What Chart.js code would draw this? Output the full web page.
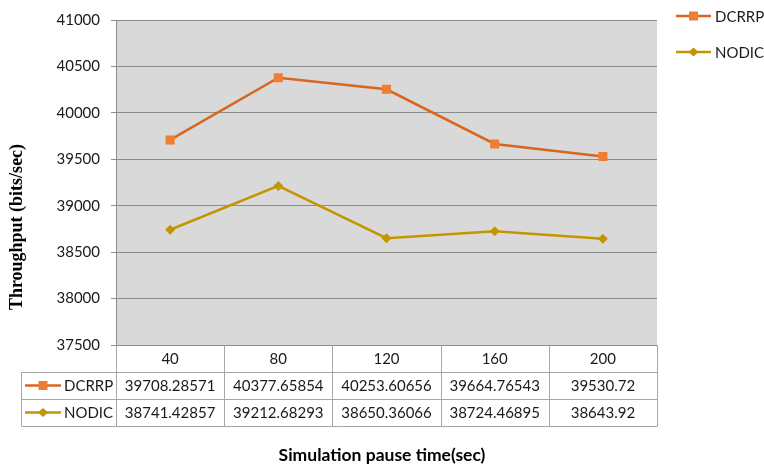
<!DOCTYPE html>
<html>
<head>
<meta charset="utf-8">
<script src="https://cdn.jsdelivr.net/npm/chart.js@4.4.1/dist/chart.umd.min.js"></script>
<style>
html,body{margin:0;padding:0;background:#fff;}
#wrap{width:764px;height:468px;position:relative;}
</style>
</head>
<body>
<div id="wrap"><canvas id="c" width="764" height="468"></canvas></div>
<script>
const categories = ['40', '80', '120', '160', '200'];
const dcrrp = [39708.28571, 40377.65854, 40253.60656, 39664.76543, 39530.72];
const nodic = [38741.42857, 39212.68293, 38650.36066, 38724.46895, 38643.92];
const dcrrpLabels = ['39708.28571', '40377.65854', '40253.60656', '39664.76543', '39530.72'];
const nodicLabels = ['38741.42857', '39212.68293', '38650.36066', '38724.46895', '38643.92'];
const seriesNames = ['DCRRP', 'NODIC'];
const yTitle = 'Throughput (bits/sec)';
const xTitle = 'Simulation pause time(sec)';

const TEXT = '#1a1a1a';
const BORDER = '#a6a6a6';

function drawKey(ctx, ds, x0, x1, y) {
  ctx.save();
  ctx.strokeStyle = ds.borderColor;
  ctx.lineWidth = ds.borderWidth;
  ctx.beginPath(); ctx.moveTo(x0, y); ctx.lineTo(x1, y); ctx.stroke();
  const cx = (x0 + x1) / 2;
  ctx.fillStyle = ds.pointBackgroundColor;
  ctx.beginPath();
  if (ds.pointStyle === 'rect') {
    ctx.rect(cx - 4.5, y - 4.5, 9, 9);
  } else {
    ctx.moveTo(cx - 5, y); ctx.lineTo(cx, y - 4.5); ctx.lineTo(cx + 5, y); ctx.lineTo(cx, y + 4.5); ctx.closePath();
  }
  ctx.fill();
  ctx.restore();
}

const tablePlugin = {
  id: 'tablePlugin',
  beforeDraw(chart) {
    const {ctx, chartArea: a} = chart;
    ctx.save();
    ctx.fillStyle = '#d9d9d9';
    ctx.fillRect(a.left, a.top, a.right - a.left, a.bottom - a.top);
    ctx.restore();
  },
  afterDraw(chart) {
    const {ctx, chartArea: a} = chart;
    const xs = chart.scales.x;
    const rowH = 27;
    const tableLeft = 21.5;
    const top = a.bottom;
    const n = categories.length;
    const colW = (a.right - a.left) / n;
    ctx.save();
    ctx.strokeStyle = BORDER;
    ctx.lineWidth = 1;
    ctx.beginPath();
    for (let i = 0; i <= n; i++) {
      const x = Math.round(a.left + i * colW) + 0.5;
      ctx.moveTo(x, top); ctx.lineTo(x, top + 3 * rowH);
    }
    ctx.moveTo(tableLeft, top + rowH); ctx.lineTo(tableLeft, top + 3 * rowH);
    for (let r = 1; r <= 3; r++) {
      const y = Math.round(top + r * rowH) + 0.5;
      ctx.moveTo(tableLeft, y); ctx.lineTo(Math.round(a.right) + 0.5, y);
    }
    ctx.stroke();

    ctx.fillStyle = TEXT;
    ctx.font = '15px Lato';
    ctx.textAlign = 'center';
    ctx.textBaseline = 'middle';
    categories.forEach((c, i) => {
      const x = xs.getPixelForValue(i);
      ctx.fillText(c, x, top + rowH / 2 + 1);
      ctx.fillText(dcrrpLabels[i], x, top + rowH * 1.5 + 1);
      ctx.fillText(nodicLabels[i], x, top + rowH * 2.5 + 1);
    });
    const dsets = chart.data.datasets;
    ctx.textAlign = 'left';
    [0, 1].forEach(k => {
      const y = top + rowH * (1.5 + k);
      drawKey(ctx, dsets[k], 25, 61, y);
      ctx.fillStyle = TEXT;
      ctx.fillText(seriesNames[k], 64, y + 1);
    });
    [0, 1].forEach(k => {
      const y = 16 + k * 36;
      drawKey(ctx, dsets[k], 676, 711, y);
      ctx.fillStyle = TEXT;
      ctx.font = '15px Lato';
      ctx.fillText(seriesNames[k], 715, y + 1);
    });
    ctx.save();
    ctx.translate(17, 227);
    ctx.rotate(-Math.PI / 2);
    ctx.textAlign = 'center';
    ctx.font = 'bold 18px "Liberation Serif"';
    ctx.fillStyle = '#000';
    ctx.fillText(yTitle, 0, 0);
    ctx.restore();
    ctx.textAlign = 'center';
    ctx.font = 'bold 17.5px Lato';
    ctx.fillStyle = '#000';
    ctx.fillText(xTitle, 382, 455);
    ctx.restore();
  }
};

new Chart(document.getElementById('c'), {
  type: 'line',
  data: {
    labels: categories,
    datasets: [
      {
        label: seriesNames[0], data: dcrrp,
        borderColor: '#d8661f', borderWidth: 2.5,
        pointStyle: 'rect', pointRadius: 6.4, pointHoverRadius: 6.4,
        pointBackgroundColor: '#ef7d32', pointBorderColor: '#ef7d32', pointBorderWidth: 0,
        tension: 0
      },
      {
        label: seriesNames[1], data: nodic,
        borderColor: '#c49500', borderWidth: 2.5,
        pointStyle: 'rectRot', pointRadius: 5, pointHoverRadius: 5,
        pointBackgroundColor: '#c49500', pointBorderColor: '#c49500', pointBorderWidth: 0,
        tension: 0
      }
    ]
  },
  options: {
    responsive: false,
    animation: false,
    events: [],
    layout: {padding: {left: 0, top: 18, right: 107, bottom: 123}},
    plugins: {legend: {display: false}, tooltip: {enabled: false}},
    scales: {
      x: {type: 'category', offset: true, display: false},
      y: {
        min: 37500, max: 41000,
        ticks: {stepSize: 500, color: TEXT, font: {family: 'Lato', size: 15}, padding: 11,
                callback: v => String(v)},
        grid: {color: '#8c8c8c', tickLength: 5, lineWidth: 1},
        border: {color: '#8c8c8c'},
        afterFit(scale) { scale.width = 116; }
      }
    }
  },
  plugins: [tablePlugin]
});
</script>
</body>
</html>
